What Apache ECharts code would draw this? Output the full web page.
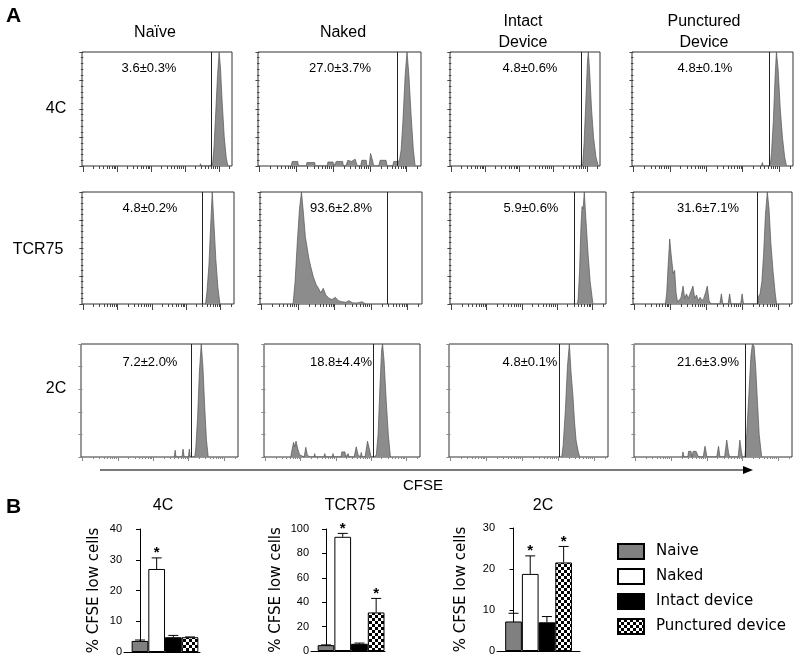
<!DOCTYPE html>
<html><head><meta charset="utf-8">
<script src="https://cdn.jsdelivr.net/npm/echarts@6/dist/echarts.min.js"></script>
<style>html,body{margin:0;padding:0;background:#fff}#c{width:800px;height:662px}</style>
</head><body><div id="c"></div>
<script>
// ---------- DATA ----------
const groups = ['Naïve', 'Naked', 'Intact\nDevice', 'Punctured\nDevice'];
const cellLines = ['4C', 'TCR75', '2C'];
const pctLabels = [
  ['3.6±0.3%', '27.0±3.7%', '4.8±0.6%', '4.8±0.1%'],
  ['4.8±0.2%', '93.6±2.8%', '5.9±0.6%', '31.6±7.1%'],
  ['7.2±2.0%', '18.8±4.4%', '4.8±0.1%', '21.6±3.9%']
];
// gate positions (log10 CFSE)
const gates = [
  [3.774, 3.739, 3.827, 3.739],
  [3.46, 3.433, 3.482, 3.424],
  [3.083, 3.061, 3.034, 3.07]
];
// histograms: [log10 CFSE, normalised count]
const h4C_naive = [[3.44,0],[3.46,0.02],[3.48,0],[3.55,0],[3.57,0.015],[3.59,0],[3.70,0],[3.72,0.015],[3.74,0],[3.79,0.01],[3.82,0.03],[3.86,0.17],[3.91,0.47],[3.96,0.78],[4.01,1.0],[4.05,0.86],[4.10,0.56],[4.16,0.26],[4.22,0.07],[4.27,0]];
const h4C_naked = [[0.86,0],[0.89,0.04],[1.04,0.04],[1.06,0],[1.27,0],[1.29,0.03],[1.5,0.03],[1.52,0],[1.84,0],[1.86,0.035],[2.0,0.035],[2.02,0],[2.07,0],[2.09,0.04],[2.26,0.04],[2.28,0],[2.35,0],[2.4,0.05],[2.5,0.04],[2.6,0.06],[2.66,0],[2.75,0],[2.78,0.05],[2.9,0.05],[2.92,0],[2.98,0],[3.02,0.11],[3.08,0.04],[3.1,0],[3.24,0],[3.28,0.05],[3.44,0.05],[3.47,0],[3.62,0],[3.65,0.04],[3.78,0.04],[3.81,0.06],[3.85,0.14],[3.9,0.4],[3.96,0.8],[4.01,1.0],[4.06,0.8],[4.12,0.45],[4.18,0.15],[4.23,0]];
const h4C_intact = [[3.86,0],[3.88,0.02],[3.92,0.2],[3.97,0.55],[4.02,0.92],[4.045,1.0],[4.08,0.85],[4.14,0.5],[4.2,0.25],[4.27,0.08],[4.34,0]];
const h4C_punct = [[3.52,0],[3.548,0.03],[3.57,0],[3.72,0],[3.74,0.015],[3.77,0.02],[3.8,0.12],[3.85,0.4],[3.9,0.8],[3.934,1.0],[3.98,0.85],[4.04,0.5],[4.1,0.25],[4.16,0.08],[4.21,0]];
const hTCR_naive = [[3.56,0],[3.6,0.1],[3.66,0.35],[3.71,0.7],[3.756,1.0],[3.8,0.75],[3.86,0.4],[3.92,0.15],[3.98,0]];
const hTCR_naked = [[0.864,0],[0.92,0.2],[0.98,0.55],[1.04,0.85],[1.094,1.0],[1.15,0.8],[1.2,0.6],[1.25,0.5],[1.3,0.4],[1.35,0.33],[1.42,0.24],[1.5,0.17],[1.56,0.14],[1.62,0.1],[1.69,0.14],[1.76,0.08],[1.85,0.05],[1.93,0.04],[2.02,0.06],[2.1,0.03],[2.2,0.02],[2.3,0.015],[2.39,0.03],[2.5,0.01],[2.62,0.01],[2.75,0.02],[2.85,0]];
const hTCR_intact = [[3.58,0],[3.6,0.05],[3.64,0.3],[3.68,0.7],[3.71,0.87],[3.74,0.85],[3.774,1.0],[3.82,0.75],[3.88,0.45],[3.94,0.2],[4.0,0.05],[4.02,0]];
const hTCR_punct = [[0.864,0],[0.9,0.1],[0.94,0.35],[0.983,0.58],[1.02,0.45],[1.06,0.33],[1.08,0.27],[1.12,0.3],[1.16,0.1],[1.2,0.02],[1.26,0.04],[1.3,0.06],[1.355,0.16],[1.4,0.05],[1.45,0.09],[1.5,0.05],[1.55,0.06],[1.63,0.16],[1.68,0.05],[1.73,0.08],[1.78,0.03],[1.83,0.06],[1.88,0.03],[1.93,0.05],[1.98,0.1],[2.03,0.16],[2.08,0.03],[2.13,0],[2.38,0],[2.423,0.09],[2.46,0],[2.61,0],[2.653,0.09],[2.69,0],[2.96,0],[3.0,0.09],[3.04,0],[3.44,0],[3.46,0.07],[3.5,0.09],[3.55,0.2],[3.6,0.45],[3.65,0.8],[3.703,1.0],[3.75,0.85],[3.8,0.55],[3.86,0.3],[3.92,0.1],[3.96,0]];
const h2C_naive = [[2.59,0],[2.618,0.06],[2.64,0],[2.81,0],[2.84,0.07],[2.87,0],[2.99,0],[3.017,0.07],[3.04,0],[3.17,0],[3.2,0.08],[3.25,0.35],[3.3,0.75],[3.353,1.0],[3.4,0.8],[3.45,0.45],[3.5,0.15],[3.55,0]];
const h2C_naked = [[0.72,0],[0.76,0.07],[0.8,0.13],[0.83,0.09],[0.87,0.14],[0.92,0.07],[0.97,0.02],[1.1,0],[1.147,0.086],[1.19,0.02],[1.25,0],[1.38,0],[1.40,0.03],[1.42,0],[1.66,0],[1.688,0.03],[1.71,0],[1.9,0],[1.92,0.03],[1.94,0],[2.15,0],[2.17,0.045],[2.26,0.045],[2.28,0],[2.33,0],[2.35,0.03],[2.37,0],[2.52,0],[2.58,0.09],[2.63,0.02],[2.7,0],[2.72,0.04],[2.75,0],[2.83,0],[2.9,0.14],[2.96,0.06],[3.0,0],[3.1,0],[3.15,0.02],[3.2,0.2],[3.25,0.6],[3.3,0.95],[3.327,1.0],[3.37,0.85],[3.43,0.5],[3.49,0.2],[3.55,0]];
const h2C_intact = [[3.1,0],[3.14,0.1],[3.2,0.4],[3.26,0.8],[3.313,1.0],[3.36,0.75],[3.415,0.53],[3.46,0.3],[3.5,0.15],[3.56,0.05],[3.6,0]];
const h2C_punct = [[1.31,0],[1.333,0.045],[1.36,0],[1.47,0],[1.49,0.05],[1.56,0.05],[1.58,0],[1.62,0.05],[1.7,0.05],[1.77,0],[1.9,0],[1.95,0.095],[1.99,0.03],[2.0,0],[2.28,0],[2.33,0.095],[2.37,0],[2.5,0],[2.56,0.15],[2.61,0.04],[2.64,0],[2.88,0],[2.928,0.15],[2.97,0.05],[3.0,0],[3.07,0],[3.12,0.2],[3.18,0.55],[3.24,0.9],[3.28,1.0],[3.327,0.98],[3.37,0.8],[3.42,0.5],[3.47,0.2],[3.54,0]];
const histData = [
  [h4C_naive, h4C_naked, h4C_intact, h4C_punct],
  [hTCR_naive, hTCR_naked, hTCR_intact, hTCR_punct],
  [h2C_naive, h2C_naked, h2C_intact, h2C_punct]
];
// log-axis tick labels (CFSE intensity)
const decadeTickValues = [1, 10, 100, 1000, 10000];
const minorTickValues = [2,3,4,5,6,7,8,9,20,30,40,50,60,70,80,90,200,300,400,500,600,700,800,900,2000,3000,4000,5000,6000,7000,8000,9000,20000];

// bar charts (panel B)
const barGroups = ['Naive', 'Naked', 'Intact device', 'Punctured device'];
const barCharts = ['4C', 'TCR75', '2C'];
const mean4C = [3.6, 27.0, 4.8, 4.8];
const err4C = [0.3, 3.6, 0.6, 0.1];
const sig4C = [0, 1, 0, 0];
const meanTCR75 = [4.8, 93.6, 5.9, 31.6];
const errTCR75 = [0.2, 2.8, 0.6, 11.5];
const sigTCR75 = [0, 1, 0, 1];
const mean2C = [7.2, 18.8, 7.0, 21.6];
const err2C = [2.0, 4.4, 1.4, 3.9];
const sig2C = [0, 1, 0, 1];
const yMaxB = [40, 100, 30];
const yStepB = [10, 20, 10];

// ---------- LAYOUT ----------
const FONT = 'Liberation Sans, Arial, sans-serif';
const boxes = [
  [[82,52,150,114],[258,52,163,114],[450,52,150,114],[632,52,161,114]],
  [[82,192,152,112],[260,192,162,112],[450,192,156,112],[633,192,159,112]],
  [[81,344,157,113],[264,344,156,113],[449,344,159,113],[634,344,158,113]]
];
const pctPos = [
  [[149,68],[340,68],[530,68],[705,68]],
  [[150,208],[341,208],[531,208],[708,208]],
  [[150,362],[341,362],[530,362],[708,362]]
];
const titlePos = [[155,32.5],[343,32.5],[523,32.5],[704,32.5]];
const rowLabelPos = [[56,109],[38,250],[56,389]];
const X_MIN = -0.04, X_MAX = 4.39;
const barBoxes = [[124,529,76,123],[311,529,74,122],[497,528,83,123]];
const barXRange = [[-0.96,3.6],[-0.9,3.53],[-0.99,3.98]];
const nameGaps = [22, 27, 28];
const barTitlePos = [[163,506],[350,506],[543,506]];

// checkerboard pattern
const pc = document.createElement('canvas');
pc.width = 6; pc.height = 6;
const pctx = pc.getContext('2d');
pctx.fillStyle = '#fff'; pctx.fillRect(0,0,6,6);
pctx.fillStyle = '#000'; pctx.fillRect(0,0,3,3); pctx.fillRect(3,3,3,3);
const barColors = ['#808080', '#ffffff', '#000000', {image: pc, repeat: 'repeat'}];

const grids = [], xAxes = [], yAxes = [], series = [], graphics = [];

histData.forEach((row, r) => row.forEach((d, c) => {
  const [l, t, w, h] = boxes[r][c];
  const gi = grids.length;
  grids.push({left: l, top: t, width: w, height: h, show: true, borderColor: '#333', borderWidth: 1, backgroundColor: 'transparent', outerBoundsMode: 'none'});
  const tickCol = r === 2 ? '#888' : '#444';
  const xi = xAxes.length;
  xAxes.push({gridIndex: gi, type: 'value', position: 'bottom', min: X_MIN, max: X_MAX,
    axisLine: {show: false}, splitLine: {show: false}, axisLabel: {show: false},
    axisTick: {show: true, inside: false, length: r === 2 ? 4 : 6, customValues: decadeTickValues.map(Math.log10), lineStyle: {color: tickCol, width: 1}}});
  xAxes.push({gridIndex: gi, type: 'value', position: 'bottom', min: X_MIN, max: X_MAX,
    axisLine: {show: false}, splitLine: {show: false}, axisLabel: {show: false},
    axisTick: {show: true, inside: false, length: r === 2 ? 2 : 3, customValues: minorTickValues.map(Math.log10), lineStyle: {color: tickCol, width: 1}}});
  const yi = yAxes.length;
  yAxes.push({gridIndex: gi, type: 'value', min: 0, max: 1, interval: r === 2 ? 0.2 : 0.25,
    axisLine: {show: false}, axisLabel: {show: false}, splitLine: {show: false},
    axisTick: {show: true, inside: false, length: 4, lineStyle: {color: tickCol}},
    minorTick: {show: r !== 2, splitNumber: 5, length: 2.5, lineStyle: {color: tickCol}}});
  series.push({type: 'line', xAxisIndex: xi, yAxisIndex: yi, data: d, symbol: 'none', showSymbol: false,
    lineStyle: {color: '#555', width: 0.7}, areaStyle: {color: '#8c8c8c', opacity: 1}, silent: true, z: 2,
    markLine: {silent: true, symbol: 'none', animation: false, label: {show: false},
      lineStyle: {color: '#222', width: 1, type: 'solid'}, data: [{xAxis: gates[r][c]}]}});
  graphics.push({type: 'text', x: pctPos[r][c][0], y: pctPos[r][c][1],
    style: {text: pctLabels[r][c], font: '13px ' + FONT, fill: '#000', textAlign: 'center', textVerticalAlign: 'middle'}});
}));

groups.forEach((g, c) => graphics.push({type: 'text', x: titlePos[c][0], y: titlePos[c][1],
  style: {text: g, font: '16px ' + FONT, lineHeight: 21, fill: '#000', textAlign: 'center', textVerticalAlign: 'middle'}}));
cellLines.forEach((g, r) => graphics.push({type: 'text', x: rowLabelPos[r][0], y: rowLabelPos[r][1],
  style: {text: g, font: '16px ' + FONT, fill: '#000', textAlign: 'center', textVerticalAlign: 'middle'}}));

graphics.push({type: 'text', x: 6, y: 16, style: {text: 'A', font: 'bold 21px ' + FONT, fill: '#000', textVerticalAlign: 'middle'}});
graphics.push({type: 'text', x: 6, y: 507, style: {text: 'B', font: 'bold 21px ' + FONT, fill: '#000', textVerticalAlign: 'middle'}});
graphics.push({type: 'line', shape: {x1: 100, y1: 470, x2: 744, y2: 470}, style: {stroke: '#7a7a7a', lineWidth: 2}});
graphics.push({type: 'polygon', shape: {points: [[743,466],[753,470],[743,474]]}, style: {fill: '#000'}});
graphics.push({type: 'text', x: 423, y: 486, style: {text: 'CFSE', font: '15px ' + FONT, fill: '#000', textAlign: 'center', textVerticalAlign: 'middle'}});

const means = [mean4C, meanTCR75, mean2C];
const errs = [err4C, errTCR75, err2C];
const sigs = [sig4C, sigTCR75, sig2C];

barCharts.forEach((name, b) => {
  const [l, t, w, h] = barBoxes[b];
  const gi = grids.length;
  grids.push({left: l, top: t, width: w, height: h, show: false, outerBoundsMode: 'none'});
  const xi = xAxes.length;
  xAxes.push({gridIndex: gi, type: 'value', position: 'bottom', min: barXRange[b][0], max: barXRange[b][1],
    axisLine: {show: true, onZero: false, lineStyle: {color: '#000', width: 1}}, axisTick: {show: false}, axisLabel: {show: false}, splitLine: {show: false}});
  const yi = yAxes.length;
  yAxes.push({gridIndex: gi, type: 'value', min: 0, max: yMaxB[b], interval: yStepB[b],
    axisLine: {show: true, lineStyle: {color: '#000', width: 1}},
    axisTick: {show: true, inside: false, length: 4, lineStyle: {color: '#000'}},
    axisLabel: {show: true, fontSize: 11, fontFamily: FONT, color: '#000', margin: 2},
    splitLine: {show: false},
    name: '% CFSE low cells', nameLocation: 'middle', nameGap: nameGaps[b],
    nameTextStyle: {fontSize: 15, fontFamily: 'DejaVu Sans', color: '#000'}});
  barGroups.forEach((gname, k) => {
    series.push({type: 'bar', name: gname, xAxisIndex: xi, yAxisIndex: yi, data: [[k, means[b][k]]],
      barWidth: 16.7, barGap: '-100%', silent: true,
      itemStyle: {color: barColors[k], borderColor: '#000', borderWidth: 1}});
  });
  series.push({type: 'custom', xAxisIndex: xi, yAxisIndex: yi, silent: true, z: 5,
    data: means[b].map((m, k) => [k, m, errs[b][k], sigs[b][k]]),
    renderItem: (params, api) => {
      const x = api.value(0), m = api.value(1), e = api.value(2), s = api.value(3);
      const p0 = api.coord([x, m]), p1 = api.coord([x, m + e]);
      const ch = [
        {type: 'line', shape: {x1: p0[0], y1: p0[1], x2: p1[0], y2: p1[1]}, style: {stroke: '#000', lineWidth: 1}},
        {type: 'line', shape: {x1: p1[0] - 5, y1: p1[1], x2: p1[0] + 5, y2: p1[1]}, style: {stroke: '#000', lineWidth: 1}}
      ];
      if (s) ch.push({type: 'text', x: p1[0], y: p1[1] - 5, style: {text: '*', font: 'bold 15px ' + FONT, fill: '#000', textAlign: 'center', textVerticalAlign: 'middle'}});
      return {type: 'group', children: ch};
    }});
  graphics.push({type: 'text', x: barTitlePos[b][0], y: barTitlePos[b][1],
    style: {text: name, font: '16px ' + FONT, fill: '#000', textAlign: 'center', textVerticalAlign: 'middle'}});
});

const chart = echarts.init(document.getElementById('c'), null, {renderer: 'canvas'});
chart.setOption({
  animation: false,
  backgroundColor: '#fff',
  grid: grids, xAxis: xAxes, yAxis: yAxes, series: series,
  legend: {show: true, orient: 'vertical', left: 617, top: 543, itemWidth: 26, itemHeight: 15, itemGap: 8,
    icon: 'rect', selectedMode: false, padding: 0, data: barGroups,
    textStyle: {fontSize: 15, fontFamily: 'DejaVu Sans', color: '#000', padding: [0, 0, 0, 7]}},
  graphic: graphics
});
</script></body></html>
